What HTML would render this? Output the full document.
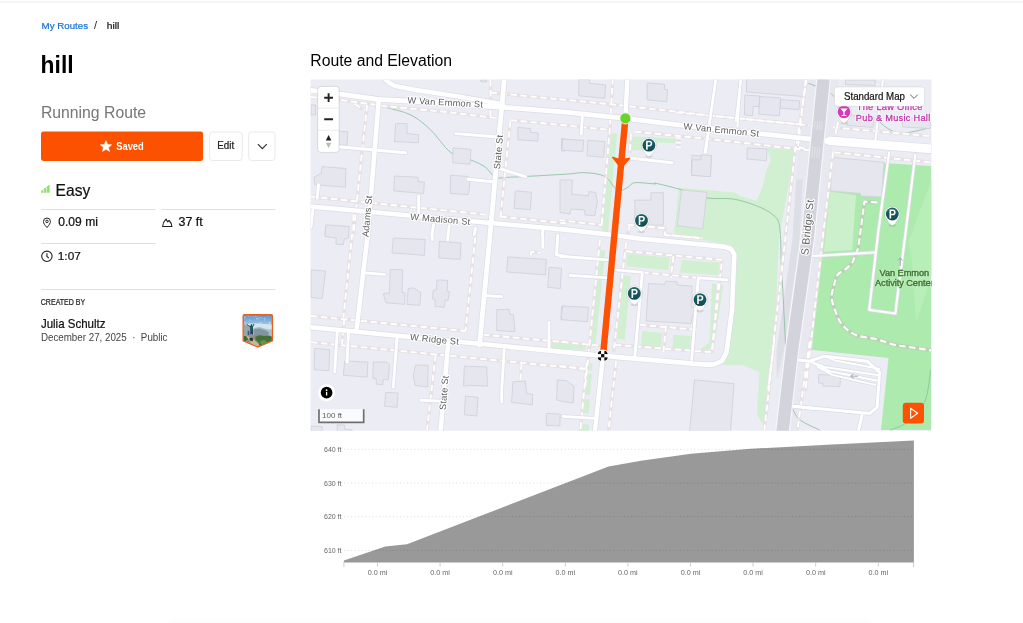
<!DOCTYPE html>
<html><head><meta charset="utf-8">
<style>
html,body{margin:0;padding:0;background:#fff;}
body{width:1023px;height:623px;position:relative;overflow:hidden;font-family:"Liberation Sans",sans-serif;color:#000;}
.abs{position:absolute;}
#topline{left:0;top:1px;width:1023px;height:2px;background:linear-gradient(#f8f8f8,#f3f3f3);}
#map{left:310px;top:79px;width:622px;height:352px;overflow:hidden;}
#elev{left:311px;top:432px;width:620px;height:150px;}
#botline{left:170px;top:628px;width:700px;height:10px;box-shadow:0 0 14px 3px rgba(0,0,0,0.06);}
</style></head><body>
<div id="wrap" style="position:absolute;left:0;top:0;width:1023px;height:623px;will-change:transform;opacity:0.999">
<div class="abs" id="topline"></div>
<svg width="1023" height="623" viewBox="0 0 1023 623" style="position:absolute;left:0;top:0;font-family:'Liberation Sans',sans-serif">
<defs>
<clipPath id="avc"><path d="M245.3 315.4h25a1.4 1.4 0 0 1 1.4 1.4v23.6l-13.9 5.9l-13.9 -5.9v-23.6a1.4 1.4 0 0 1 1.4 -1.4z"/></clipPath>
<linearGradient id="sky" x1="0" y1="0" x2="0" y2="1"><stop offset="0" stop-color="#5690d0"/><stop offset="0.36" stop-color="#a9cde6"/><stop offset="1" stop-color="#a9cde6"/></linearGradient>
</defs>

<text x="41.6" y="29" font-size="9.6" fill="#1470d6" stroke="#1470d6" stroke-width="0.2" textLength="46.4" lengthAdjust="spacingAndGlyphs">My Routes</text>
<text x="94" y="29.3" font-size="11" fill="#222">/</text>
<text x="106.8" y="29.1" font-size="9.9" fill="#111" stroke="#111" stroke-width="0.2" textLength="12.6" lengthAdjust="spacingAndGlyphs">hill</text>

<text x="40.6" y="73.4" font-size="24.8" font-weight="bold" fill="#000" textLength="33" lengthAdjust="spacingAndGlyphs">hill</text>
<text x="40.9" y="117.7" font-size="16.2" fill="#767676" textLength="105.2" lengthAdjust="spacingAndGlyphs">Running Route</text>

<rect x="41" y="131.5" width="162.1" height="29.5" rx="2.4" fill="#fc5200"/>
<path transform="translate(106 146.3)" fill="#fff" d="M0 -5.7L1.65 -1.9L5.7 -1.55L2.6 1.15L3.55 5.15L0 3L-3.55 5.15L-2.6 1.15L-5.7 -1.55L-1.65 -1.9Z" stroke="#fff" stroke-width="0.5" stroke-linejoin="round"/>
<text x="116.2" y="150.1" font-size="11" font-weight="bold" fill="#fff" textLength="27.6" lengthAdjust="spacingAndGlyphs">Saved</text>
<rect x="209.6" y="132" width="32.6" height="28.5" rx="2.8" fill="#fff" stroke="#e9e9e9" stroke-width="1"/>
<text x="217.3" y="149.1" font-size="10" fill="#222" textLength="16.9" lengthAdjust="spacingAndGlyphs" stroke="#222" stroke-width="0.22">Edit</text>
<rect x="248.7" y="132" width="26.3" height="28.5" rx="2.8" fill="#fff" stroke="#e9e9e9" stroke-width="1"/>
<path d="M257.9 144.1l4.45 4.5l4.45 -4.5" fill="none" stroke="#333" stroke-width="1.25"/>

<g fill="#8ddc66"><rect x="41.4" y="190.6" width="2.1" height="2.2"/><rect x="44.2" y="188.4" width="2.2" height="4.4"/><path d="M47.1 186.6l2.4 -1.8v8h-2.4z"/><path d="M41.4 190.6l8.1 -5.8v1.2l-8.1 5.6z" opacity="0.6"/></g>
<text x="55.6" y="195.8" font-size="16" fill="#111" textLength="34.6" lengthAdjust="spacingAndGlyphs" stroke="#111" stroke-width="0.22">Easy</text>

<g stroke="#dfdfdf" stroke-width="1"><line x1="41" y1="209.5" x2="155.6" y2="209.5"/><line x1="161.4" y1="209.5" x2="275.4" y2="209.5"/><line x1="41" y1="243.5" x2="155.6" y2="243.5"/><line x1="41" y1="289.5" x2="275.4" y2="289.5"/></g>
<g fill="none" stroke="#222" stroke-width="1">
<path d="M46.95 227.5c-2.2 -2.5 -3.5 -4.2 -3.5 -6a3.5 3.5 0 0 1 7 0c0 1.8 -1.3 3.5 -3.5 6z"/><circle cx="46.95" cy="221.4" r="1.25"/>
<path d="M162.6 226.5c0.2 -2.2 1.5 -5.6 3.4 -7.4l1.6 2.7l1.5 -1.3c1.6 1.6 2.6 4 2.8 6z" stroke-linejoin="round" stroke-width="1.15"/>
<circle cx="46.9" cy="256.3" r="5.2" stroke-width="1.1"/><path d="M46.9 253.2v3.3l2 1.7" stroke-width="1.1"/>
</g>
<text x="58.3" y="225.9" font-size="12" fill="#111" textLength="39.6" lengthAdjust="spacingAndGlyphs" stroke="#111" stroke-width="0.22">0.09 mi</text>
<text x="178.5" y="226" font-size="12" fill="#111" textLength="24.2" lengthAdjust="spacingAndGlyphs" stroke="#111" stroke-width="0.22">37 ft</text>
<text x="57.8" y="260.1" font-size="11.8" fill="#111" textLength="23" lengthAdjust="spacingAndGlyphs" stroke="#111" stroke-width="0.22">1:07</text>

<text x="40.8" y="305.3" font-size="8.3" fill="#222" textLength="44.4" lengthAdjust="spacingAndGlyphs" stroke="#222" stroke-width="0.22">CREATED BY</text>
<text x="40.9" y="327.6" font-size="12.2" fill="#111" textLength="64.6" lengthAdjust="spacingAndGlyphs" stroke="#111" stroke-width="0.22">Julia Schultz</text>
<text x="40.9" y="340.9" font-size="10.7" fill="#444" textLength="126.6" lengthAdjust="spacingAndGlyphs">December 27, 2025&#160;&#160;&#183;&#160;&#160;Public</text>

<path d="M244.4 314h26.8a1.9 1.9 0 0 1 1.9 1.9v25.3l-15.3 6.5l-15.3 -6.5v-25.3a1.9 1.9 0 0 1 1.9 -1.9z" fill="#e9601a"/>
<g clip-path="url(#avc)">
<rect x="243" y="314" width="30" height="34" fill="url(#sky)"/>
<polygon points="243.1,323.9 254.4,323.2 272.7,324.6 272.7,329.2 243.1,329.2" fill="#d5e5ec"/>
<polygon points="243.1,324.6 246.6,324.1 250.1,326.4 254.4,331.3 257.2,337.7 243.1,338.4" fill="#9aa5aa"/>
<polygon points="253.7,328.1 259.3,327.1 267.1,329.2 272.7,331.3 272.7,337.7 253.7,337.7" fill="#a9bcc6"/>
<polygon points="254.0,329.2 259.3,328.5 265.7,330.6 269.2,332.7 267.1,336.2 254.4,337.0" fill="#7f95a1"/>
<polygon points="243.1,336.2 257.2,334.8 272.7,336.2 272.7,349.0 243.1,349.0" fill="#8a8f80"/>
<polygon points="255.1,337.0 259.3,335.2 264.2,335.9 269.2,335.5 272.7,337.0 272.7,349.0 257.2,349.0 259.3,343.3 255.8,339.8" fill="#44703a"/>
<polygon points="260.0,341.2 264.2,339.8 267.1,341.9 264.2,344.7 260.7,344.0" fill="#5f9647"/>
<polygon points="243.1,336.2 246.6,335.9 248.4,339.1 245.2,341.2 243.1,341.2" fill="#3f6634"/>
<polygon points="245.9,336.2 248.4,336.2 252.9,339.1 259.3,344.7 258.6,347.5 252.2,346.1 250.1,341.2" fill="#cbb792"/>
<polygon points="250.0,326.0 252.9,326.0 253.2,331.3 250.1,331.3" fill="#1f5560"/>
<polygon points="250.4,331.2 252.9,331.2 252.8,334.5 251.9,334.5 251.7,332.4 251.3,334.5 250.4,334.5" fill="#1b2b3c"/>
<polyline points="250.1,326.7 248.1,325.3 246.7,324.1" fill="none" stroke="#24505a" stroke-width="0.9"/>
<polyline points="252.9,326.7 253.7,325.3 253.8,323.7" fill="none" stroke="#24505a" stroke-width="0.9"/>
<circle cx="251.5" cy="325.2" r="1" fill="#2c3a3e"/>
<polygon points="247.7,330.7 249.3,330.7 249.4,335.2 247.7,335.2" fill="#35588f"/>
<polygon points="249.4,337.7 252.9,338.0 252.8,341.2 249.8,340.6" fill="#26302f"/>
<g fill="#fff" opacity="0.8"><circle cx="250.3" cy="316.1" r="0.40"/><circle cx="248.0" cy="315.7" r="0.40"/><circle cx="269.1" cy="323.0" r="0.49"/><circle cx="249.9" cy="320.4" r="0.37"/><circle cx="248.5" cy="316.1" r="0.35"/><circle cx="269.3" cy="323.3" r="0.50"/><circle cx="261.0" cy="322.3" r="0.51"/><circle cx="268.0" cy="315.9" r="0.47"/><circle cx="257.7" cy="316.8" r="0.42"/><circle cx="246.2" cy="324.3" r="0.52"/><circle cx="258.9" cy="318.0" r="0.53"/><circle cx="259.5" cy="323.8" r="0.51"/><circle cx="257.8" cy="319.2" r="0.45"/><circle cx="255.6" cy="316.7" r="0.38"/><circle cx="261.0" cy="317.8" r="0.43"/><circle cx="256.7" cy="318.5" r="0.55"/><circle cx="249.2" cy="319.1" r="0.35"/><circle cx="261.2" cy="317.8" r="0.39"/><circle cx="264.3" cy="318.2" r="0.53"/><circle cx="246.5" cy="315.7" r="0.36"/><circle cx="264.8" cy="321.1" r="0.36"/><circle cx="252.9" cy="316.8" r="0.41"/><circle cx="244.9" cy="322.0" r="0.52"/><circle cx="270.1" cy="322.3" r="0.54"/><circle cx="244.3" cy="317.9" r="0.54"/><circle cx="265.1" cy="319.1" r="0.46"/><circle cx="256.0" cy="316.4" r="0.40"/><circle cx="245.0" cy="316.7" r="0.50"/><circle cx="253.8" cy="317.9" r="0.32"/></g>
</g>

<text x="310.3" y="65.6" font-size="16" fill="#000" textLength="141.8" lengthAdjust="spacingAndGlyphs">Route and Elevation</text>
</svg>

<div class="abs" id="map"><svg width="622" height="352" viewBox="310 79 622 352" style="display:block;font-family:'Liberation Sans',sans-serif">
<defs><clipPath id="mapclip"><rect x="310.6" y="79.5" width="620.8" height="351.2"/></clipPath></defs><g clip-path="url(#mapclip)">
<rect x="310" y="79" width="622" height="352" fill="#ececf4"/>
<polygon points="838.0,160.0 931.0,166.0 931.0,430.0 881.0,430.0 888.5,358.0 808.0,349.5 823.0,235.0 828.0,190.0 832.0,160.0" fill="#acebad"/>
<polygon points="932.0,178.0 908.5,242.0 912.0,262.0 916.0,322.0 932.0,276.0" fill="#b8eeb8"/>
<polygon points="830.0,191.6 856.0,195.3 852.1,250.1 823.8,251.8" fill="#cbf0cb"/>
<polygon points="766.9,147.8 770.8,159.8 766.3,171.6 762.1,188.2 756.3,200.7 739.7,195.7 734.7,192.4 706.5,189.9 679.0,187.4 674.1,233.1 702.3,239.8 730.6,244.7 734.5,254.9 732.0,309.8 724.5,354.6 719.5,363.4 724.5,364.9 743.2,364.9 759.4,372.4 756.9,414.8 764.4,426.0 774.4,340.0 779.3,235.0 795.5,150.3" fill="#d1f0d1"/>
<polygon points="611.3,133.3 617.2,133.3 607.9,232.0 602.1,232.0" fill="#d1f0d1"/>
<polygon points="632.3,136.6 675.9,138.6 675.2,143.3 654.7,142.3 653.5,150.3 631.8,150.3" fill="#d1f0d1"/>
<polygon points="805.4,79.0 797.2,160.0 795.3,179.3 796.2,179.3 792.4,240.0 776.6,350.0 776.6,378.0 783.0,378.0 775.5,432.0 798.0,432.0 807.5,350.0 823.0,240.0 831.0,160.0 839.1,79.0" fill="#e8e8f0"/>
<polygon points="796.2,179.3 802.6,179.3 799.5,240.0 784.0,350.0 776.8,378.0 776.6,350.0 792.4,240.0" fill="#dedee7"/>
<polygon points="627.3,253.7 669.7,257.4 668.4,269.9 626.1,266.2" fill="#d1f0d1"/>
<polygon points="682.1,259.9 719.5,262.4 718.3,274.9 679.6,272.4" fill="#d1f0d1"/>
<polygon points="619.8,274.9 631.0,276.1 624.8,339.7 616.1,338.4" fill="#d1f0d1"/>
<polygon points="712.0,283.6 723.3,284.9 714.5,344.7 705.8,352.1 698.3,350.9 709.6,342.2" fill="#d1f0d1"/>
<polygon points="642.3,331.0 662.2,332.7 660.9,348.4 641.0,345.9" fill="#d1f0d1"/>
<polygon points="673.4,334.7 690.9,335.9 689.6,350.9 672.2,349.7" fill="#d1f0d1"/>
<polygon points="599.9,250.0 605.4,250.5 595.4,344.7 589.9,344.7" fill="#d1f0d1"/>
<polygon points="551.5,342.2 565.2,343.4 565.2,349.7 551.5,348.4" fill="#d1f0d1"/>
<polygon points="560.0,342.7 586.2,344.7 584.9,350.2 560.0,348.4" fill="#d1f0d1"/>
<polygon points="587.7,362.9 592.7,363.6 592.0,370.7 587.0,370.2" fill="#d1f0d1"/>
<polygon points="586.0,373.2 592.0,373.9 589.8,395.1 584.4,394.5" fill="#d1f0d1"/>
<polygon points="584.0,399.0 589.8,399.5 588.7,413.4 582.7,412.8" fill="#d1f0d1"/>
<polygon points="581.7,423.9 589.3,424.4 588.7,431.7 580.7,431.7" fill="#d1f0d1"/>
<path d="M311.0 96.9 C316.0 97.5 330.9 99.3 340.9 100.4 C350.9 101.6 363.3 102.5 370.8 103.7 C378.3 104.8 379.1 105.5 385.8 107.4 C392.4 109.3 403.2 111.2 410.7 114.9 C418.2 118.6 424.0 123.6 430.6 129.9 C437.3 136.1 443.9 147.3 450.6 152.3 C457.2 157.3 464.7 157.3 470.5 159.8 C476.3 162.3 481.3 164.3 485.5 167.2 C489.6 170.1 491.3 175.5 495.4 177.2 C499.6 178.9 498.8 177.7 510.4 177.2 C522.0 176.7 552.8 175.0 565.2 174.2 C577.7 173.5 578.3 172.3 584.9 172.7 C591.5 173.1 599.5 173.5 604.9 176.5 C610.3 179.4 613.6 188.3 617.3 190.2 C621.1 192.0 624.4 188.9 627.3 187.7 C630.2 186.4 630.2 183.3 634.8 182.7 C639.3 182.1 651.2 183.8 654.7 183.9 C658.2 184.0 651.7 182.4 655.8 183.3 C659.8 184.1 670.5 186.6 679.0 189.1 C687.6 191.5 697.8 196.2 706.8 197.9 C715.8 199.5 724.8 197.7 733.1 199.0 C741.3 200.4 749.7 203.1 756.3 205.7 C763.0 208.3 769.1 211.4 772.9 214.8 C776.8 218.3 778.2 218.4 779.6 226.5 C781.0 234.5 780.9 255.4 781.2 263.0 C781.6 270.7 781.2 258.4 781.9 272.4 C782.7 286.4 785.0 334.7 785.7 347.2" fill="none" stroke="#90c3a2" stroke-width="0.9"/>
<path d="M808.4 83.3 C809.9 83.9 816.0 86.1 817.5 86.6" fill="none" stroke="#90c3a2" stroke-width="0.9"/>
<path d="M830.8 93.3 C831.5 94.0 834.3 96.8 834.9 97.4" fill="none" stroke="#90c3a2" stroke-width="0.9"/>
<path d="M877.3 119.9 C879.0 121.3 883.7 126.0 887.3 128.2 C890.9 130.4 894.5 132.6 898.9 133.2 C903.4 133.7 908.6 132.5 913.9 131.5 C919.1 130.5 927.7 128.1 930.5 127.4" fill="none" stroke="#90c3a2" stroke-width="0.9"/>
<path d="M930.7 369.9 C929.7 375.3 928.5 393.6 924.5 402.3 C920.6 411.0 912.9 417.6 907.1 422.3 C901.2 426.9 892.5 428.9 889.6 430.2" fill="none" stroke="#90c3a2" stroke-width="0.9"/>
<path d="M792.4 408.5 C793.6 410.4 795.3 416.1 799.9 419.8 C804.4 423.4 816.5 428.5 819.8 430.2" fill="none" stroke="#90c3a2" stroke-width="0.9"/>
<polygon points="395.7,123.6 407.0,123.6 407.0,133.6 418.7,134.8 418.2,142.8 394.5,141.6" fill="#e6e6ee" stroke="#cfcfdb" stroke-width="0.8" stroke-linejoin="round"/>
<polygon points="453.1,147.8 471.0,149.3 470.0,164.2 452.6,162.8" fill="#e6e6ee" stroke="#cfcfdb" stroke-width="0.8" stroke-linejoin="round"/>
<polygon points="322.2,166.7 345.9,168.5 345.4,187.2 314.7,184.7 314.0,177.2 321.0,173.5" fill="#e6e6ee" stroke="#cfcfdb" stroke-width="0.8" stroke-linejoin="round"/>
<polygon points="394.5,176.0 418.2,177.2 418.2,181.7 424.4,182.2 423.7,193.4 393.8,190.9" fill="#e6e6ee" stroke="#cfcfdb" stroke-width="0.8" stroke-linejoin="round"/>
<polygon points="450.6,175.2 468.0,176.5 468.0,180.9 469.8,181.2 469.3,189.7 468.0,194.7 450.1,193.4" fill="#e6e6ee" stroke="#cfcfdb" stroke-width="0.8" stroke-linejoin="round"/>
<polygon points="517.9,127.4 530.3,128.6 530.3,132.3 538.3,133.1 537.8,141.1 517.9,139.8" fill="#e6e6ee" stroke="#cfcfdb" stroke-width="0.8" stroke-linejoin="round"/>
<polygon points="515.4,190.9 531.6,192.2 530.3,209.6 514.1,208.4" fill="#e6e6ee" stroke="#cfcfdb" stroke-width="0.8" stroke-linejoin="round"/>
<polygon points="561.5,138.6 565.2,138.8 565.2,151.0 561.5,150.8" fill="#e6e6ee" stroke="#cfcfdb" stroke-width="0.8" stroke-linejoin="round"/>
<polygon points="335.9,131.1 347.9,131.8 347.1,145.3 335.9,144.8" fill="#e6e6ee" stroke="#cfcfdb" stroke-width="0.8" stroke-linejoin="round"/>
<polygon points="311.0,104.9 315.5,104.9 315.5,114.9 311.0,114.9" fill="#e6e6ee" stroke="#cfcfdb" stroke-width="0.8" stroke-linejoin="round"/>
<polygon points="326.0,225.8 348.4,227.1 348.4,234.5 324.7,234.5" fill="#e6e6ee" stroke="#cfcfdb" stroke-width="0.8" stroke-linejoin="round"/>
<polygon points="480.5,80.0 486.7,80.0 486.2,82.0 480.5,81.5" fill="#e6e6ee" stroke="#cfcfdb" stroke-width="0.8" stroke-linejoin="round"/>
<polygon points="579.0,79.2 589.0,79.2 589.8,83.3 605.6,85.0 604.8,98.3 578.7,95.8" fill="#e6e6ee" stroke="#cfcfdb" stroke-width="0.8" stroke-linejoin="round"/>
<polygon points="647.2,83.0 664.7,84.2 664.2,89.2 667.7,89.7 666.7,101.7 647.2,99.9" fill="#e6e6ee" stroke="#cfcfdb" stroke-width="0.8" stroke-linejoin="round"/>
<polygon points="562.5,139.1 583.7,140.3 582.9,151.5 562.0,150.3" fill="#e6e6ee" stroke="#cfcfdb" stroke-width="0.8" stroke-linejoin="round"/>
<polygon points="587.9,140.3 604.9,141.6 603.6,157.3 586.9,155.8" fill="#e6e6ee" stroke="#cfcfdb" stroke-width="0.8" stroke-linejoin="round"/>
<polygon points="692.1,155.3 711.5,156.5 710.3,176.5 691.6,175.2 691.6,160.3" fill="#e6e6ee" stroke="#cfcfdb" stroke-width="0.8" stroke-linejoin="round"/>
<polygon points="747.4,147.8 766.9,149.0 766.4,160.8 746.9,159.0" fill="#e6e6ee" stroke="#cfcfdb" stroke-width="0.8" stroke-linejoin="round"/>
<polygon points="560.0,180.0 572.5,180.0 571.6,194.1 588.2,195.8 589.1,191.6 595.7,192.5 597.4,201.6 594.9,215.7 584.9,214.9 584.6,209.9 570.8,209.1 570.0,214.1 560.0,212.4" fill="#e6e6ee" stroke="#cfcfdb" stroke-width="0.8" stroke-linejoin="round"/>
<polygon points="634.8,200.1 651.0,200.1 651.0,192.7 663.4,192.7 663.4,225.1 634.8,225.1" fill="#e6e6ee" stroke="#cfcfdb" stroke-width="0.8" stroke-linejoin="round"/>
<polygon points="681.5,189.9 706.8,192.4 702.8,229.0 677.4,225.6" fill="#e6e6ee" stroke="#cfcfdb" stroke-width="0.8" stroke-linejoin="round"/>
<polygon points="746.5,78.7 807.5,78.7 804.7,96.6 746.5,92.0" fill="#e6e6ee" stroke="#cfcfdb" stroke-width="0.8" stroke-linejoin="round"/>
<polygon points="744.9,95.0 759.8,96.1 759.0,106.6 753.2,106.3 752.4,115.7 744.4,114.9" fill="#e6e6ee" stroke="#cfcfdb" stroke-width="0.8" stroke-linejoin="round"/>
<polygon points="759.8,96.6 780.6,97.9 779.3,115.7 758.7,114.1" fill="#e6e6ee" stroke="#cfcfdb" stroke-width="0.8" stroke-linejoin="round"/>
<polygon points="780.6,99.6 799.7,100.8 798.9,109.6 780.3,108.2" fill="#e6e6ee" stroke="#cfcfdb" stroke-width="0.8" stroke-linejoin="round"/>
<polygon points="692.2,159.8 700.9,159.8 701.4,154.8 711.4,155.5 710.4,176.7 691.5,175.2" fill="#e6e6ee" stroke="#cfcfdb" stroke-width="0.8" stroke-linejoin="round"/>
<polygon points="831.8,157.3 884.1,162.3 881.6,197.1 860.4,195.9 860.4,193.4 830.5,190.9" fill="#e6e6ee" stroke="#cfcfdb" stroke-width="0.8" stroke-linejoin="round"/>
<polygon points="845.5,80.0 875.4,80.0 874.9,85.5 845.5,84.5" fill="#e6e6ee" stroke="#cfcfdb" stroke-width="0.8" stroke-linejoin="round"/>
<polygon points="848.0,114.9 874.2,117.4 872.9,127.4 846.7,125.4" fill="#e6e6ee" stroke="#cfcfdb" stroke-width="0.8" stroke-linejoin="round"/>
<polygon points="902.8,117.4 930.2,119.4 930.2,128.6 902.3,126.9" fill="#e6e6ee" stroke="#cfcfdb" stroke-width="0.8" stroke-linejoin="round"/>
<polygon points="393.3,238.0 425.2,239.5 424.4,255.4 392.0,252.9" fill="#e6e6ee" stroke="#cfcfdb" stroke-width="0.8" stroke-linejoin="round"/>
<polygon points="439.4,241.2 461.0,243.0 460.1,259.4 438.6,257.9" fill="#e6e6ee" stroke="#cfcfdb" stroke-width="0.8" stroke-linejoin="round"/>
<polygon points="507.9,256.9 546.5,259.4 545.3,274.9 506.7,271.9" fill="#e6e6ee" stroke="#cfcfdb" stroke-width="0.8" stroke-linejoin="round"/>
<polygon points="549.0,267.4 561.5,268.2 560.3,288.6 547.8,287.3" fill="#e6e6ee" stroke="#cfcfdb" stroke-width="0.8" stroke-linejoin="round"/>
<polygon points="311.0,269.9 325.5,271.1 322.2,298.6 311.0,297.3" fill="#e6e6ee" stroke="#cfcfdb" stroke-width="0.8" stroke-linejoin="round"/>
<polygon points="390.3,269.4 402.7,269.9 402.0,292.3 405.2,292.8 404.5,304.3 385.8,302.8 383.3,293.6 389.5,292.8" fill="#e6e6ee" stroke="#cfcfdb" stroke-width="0.8" stroke-linejoin="round"/>
<polygon points="408.2,288.6 413.2,287.8 420.7,292.3 419.9,305.3 407.0,304.3" fill="#e6e6ee" stroke="#cfcfdb" stroke-width="0.8" stroke-linejoin="round"/>
<polygon points="436.9,279.9 447.6,280.4 447.1,291.1 449.3,291.8 448.1,300.3 445.1,300.3 444.3,307.3 435.1,306.5 435.1,299.8 432.6,299.1 433.1,290.3 436.4,289.8" fill="#e6e6ee" stroke="#cfcfdb" stroke-width="0.8" stroke-linejoin="round"/>
<polygon points="496.7,309.8 509.2,309.3 509.7,314.3 513.4,314.8 514.9,331.7 496.7,330.5" fill="#e6e6ee" stroke="#cfcfdb" stroke-width="0.8" stroke-linejoin="round"/>
<polygon points="314.7,348.4 329.7,349.7 328.9,370.8 314.0,369.6" fill="#e6e6ee" stroke="#cfcfdb" stroke-width="0.8" stroke-linejoin="round"/>
<polygon points="344.6,360.9 367.8,362.1 367.1,377.1 343.4,375.3" fill="#e6e6ee" stroke="#cfcfdb" stroke-width="0.8" stroke-linejoin="round"/>
<polygon points="373.3,362.1 387.0,362.1 389.5,364.6 388.3,379.6 383.3,379.6 382.8,384.6 376.3,384.1 376.3,379.1 372.8,378.3" fill="#e6e6ee" stroke="#cfcfdb" stroke-width="0.8" stroke-linejoin="round"/>
<polygon points="326.0,224.9 349.2,226.5 348.4,238.2 344.2,239.0 343.4,244.8 335.9,244.0 336.3,238.2 325.1,236.5" fill="#e6e6ee" stroke="#cfcfdb" stroke-width="0.8" stroke-linejoin="round"/>
<polygon points="561.5,306.0 565.2,306.3 565.2,319.7 561.0,319.2" fill="#e6e6ee" stroke="#cfcfdb" stroke-width="0.8" stroke-linejoin="round"/>
<polygon points="415.7,364.9 428.1,365.4 427.7,386.9 415.2,385.6 413.2,374.9" fill="#e6e6ee" stroke="#cfcfdb" stroke-width="0.8" stroke-linejoin="round"/>
<polygon points="464.3,366.2 486.7,366.9 487.5,386.1 470.5,385.4 463.5,386.1" fill="#e6e6ee" stroke="#cfcfdb" stroke-width="0.8" stroke-linejoin="round"/>
<polygon points="385.8,392.3 398.2,393.1 397.0,407.3 384.5,406.3" fill="#e6e6ee" stroke="#cfcfdb" stroke-width="0.8" stroke-linejoin="round"/>
<polygon points="465.5,396.1 478.0,397.3 476.8,416.0 464.3,414.8" fill="#e6e6ee" stroke="#cfcfdb" stroke-width="0.8" stroke-linejoin="round"/>
<polygon points="512.9,381.9 525.4,381.1 526.6,393.6 532.8,394.3 532.3,404.8 511.6,402.3" fill="#e6e6ee" stroke="#cfcfdb" stroke-width="0.8" stroke-linejoin="round"/>
<polygon points="546.5,413.5 560.3,414.0 559.8,426.0 546.0,425.2" fill="#e6e6ee" stroke="#cfcfdb" stroke-width="0.8" stroke-linejoin="round"/>
<polygon points="311.0,426.0 322.2,426.7 322.2,432.7 311.0,432.7" fill="#e6e6ee" stroke="#cfcfdb" stroke-width="0.8" stroke-linejoin="round"/>
<polygon points="337.2,424.7 344.6,425.2 344.6,429.2 352.1,429.7 352.1,432.7 337.2,432.7" fill="#e6e6ee" stroke="#cfcfdb" stroke-width="0.8" stroke-linejoin="round"/>
<polygon points="562.5,306.0 588.7,307.3 587.4,321.7 561.2,319.7" fill="#e6e6ee" stroke="#cfcfdb" stroke-width="0.8" stroke-linejoin="round"/>
<polygon points="648.5,283.6 664.7,284.4 665.9,281.1 677.1,281.9 677.1,284.9 692.1,286.1 691.6,307.3 694.6,307.8 690.9,323.5 646.0,321.0" fill="#e6e6ee" stroke="#cfcfdb" stroke-width="0.8" stroke-linejoin="round"/>
<polygon points="694.6,379.9 734.0,383.6 730.5,432.7 689.4,432.7" fill="#e6e6ee" stroke="#cfcfdb" stroke-width="0.8" stroke-linejoin="round"/>
<polygon points="557.4,379.9 566.6,380.7 574.1,386.5 573.2,403.1 562.4,401.5 556.6,399.8" fill="#e6e6ee" stroke="#cfcfdb" stroke-width="0.8" stroke-linejoin="round"/>
<polygon points="818.6,374.6 840.5,375.3 840.0,386.5 823.1,386.0 823.1,383.3 818.6,383.1" fill="#e6e6ee" stroke="#cfcfdb" stroke-width="0.8" stroke-linejoin="round"/>
<polyline points="311.0,96.9 343.4,100.4 385.8,106.2 450.6,112.4 495.4,117.9" fill="none" stroke="#e7e1e4" stroke-width="3.4" stroke-linejoin="round"/>
<polyline points="354.6,103.7 363.3,109.9" fill="none" stroke="#e7e1e4" stroke-width="3.4" stroke-linejoin="round"/>
<polyline points="367.1,104.9 360.9,162.3 353.4,234.5 352.1,235.0 343.4,317.3" fill="none" stroke="#e7e1e4" stroke-width="3.4" stroke-linejoin="round"/>
<polyline points="490.5,80.0 490.5,117.4" fill="none" stroke="#e7e1e4" stroke-width="3.4" stroke-linejoin="round"/>
<polyline points="490.5,92.5 565.2,99.9 560.0,99.2 609.9,104.2 709.6,115.4 809.3,125.4" fill="none" stroke="#e7e1e4" stroke-width="3.4" stroke-linejoin="round"/>
<polyline points="510.6,120.2 560.8,124.9 609.8,129.9" fill="none" stroke="#e7e1e4" stroke-width="3.4" stroke-linejoin="round"/>
<polyline points="510.4,121.1 500.4,217.1" fill="none" stroke="#e7e1e4" stroke-width="3.4" stroke-linejoin="round"/>
<polyline points="476.6,227.5 475.5,235.0 465.5,331.0" fill="none" stroke="#e7e1e4" stroke-width="3.4" stroke-linejoin="round"/>
<polyline points="311.0,196.7 485.5,214.6" fill="none" stroke="#e7e1e4" stroke-width="3.4" stroke-linejoin="round"/>
<polyline points="500.4,216.6 565.2,223.3 560.0,220.1 602.4,225.1" fill="none" stroke="#e7e1e4" stroke-width="3.4" stroke-linejoin="round"/>
<polyline points="353.4,214.6 353.4,234.5" fill="none" stroke="#e7e1e4" stroke-width="3.4" stroke-linejoin="round"/>
<polyline points="612.8,78.0 609.9,127.9 601.4,227.6" fill="none" stroke="#e7e1e4" stroke-width="3.4" stroke-linejoin="round"/>
<polyline points="634.8,131.6 709.6,139.1 809.3,150.3 795.6,146.1" fill="none" stroke="#e7e1e4" stroke-width="3.4" stroke-linejoin="round"/>
<polyline points="631.0,134.1 629.8,152.8" fill="none" stroke="#e7e1e4" stroke-width="3.4" stroke-linejoin="round"/>
<polyline points="795.6,146.1 785.7,234.5 785.7,235.0 768.2,389.5 774.4,340.0 764.4,430.2" fill="none" stroke="#e7e1e4" stroke-width="3.4" stroke-linejoin="round"/>
<polyline points="805.6,80.0 798.1,146.1" fill="none" stroke="#e7e1e4" stroke-width="3.4" stroke-linejoin="round"/>
<polyline points="806.8,78.0 795.5,150.3" fill="none" stroke="#e7e1e4" stroke-width="3.4" stroke-linejoin="round"/>
<polyline points="676.0,112.4 805.6,124.9" fill="none" stroke="#e7e1e4" stroke-width="3.4" stroke-linejoin="round"/>
<polyline points="833.0,127.4 930.2,136.1" fill="none" stroke="#e7e1e4" stroke-width="3.4" stroke-linejoin="round"/>
<polyline points="834.3,152.3 930.2,162.3" fill="none" stroke="#e7e1e4" stroke-width="3.4" stroke-linejoin="round"/>
<polyline points="833.0,152.3 823.1,234.5 823.1,235.0 805.6,389.5 809.9,340.0 797.4,430.2" fill="none" stroke="#e7e1e4" stroke-width="3.4" stroke-linejoin="round"/>
<polyline points="627.8,224.6 642.3,226.3 664.7,228.3" fill="none" stroke="#e7e1e4" stroke-width="3.4" stroke-linejoin="round"/>
<polyline points="648.3,226.5 664.9,228.1 664.9,234.8 702.3,238.1" fill="none" stroke="#e7e1e4" stroke-width="3.4" stroke-linejoin="round"/>
<polyline points="629.8,224.5 627.8,234.8" fill="none" stroke="#e7e1e4" stroke-width="3.4" stroke-linejoin="round"/>
<polyline points="344.2,319.0 342.2,344.0" fill="none" stroke="#e7e1e4" stroke-width="3.4" stroke-linejoin="round"/>
<polyline points="530.8,255.4 531.3,251.9 539.8,252.9" fill="none" stroke="#e7e1e4" stroke-width="3.4" stroke-linejoin="round"/>
<polyline points="311.0,316.0 465.5,331.0" fill="none" stroke="#e7e1e4" stroke-width="3.4" stroke-linejoin="round"/>
<polyline points="483.0,334.7 565.2,342.2 560.0,341.7 602.4,345.9" fill="none" stroke="#e7e1e4" stroke-width="3.4" stroke-linejoin="round"/>
<polyline points="311.0,342.2 565.2,367.1 560.0,365.9 587.4,369.6" fill="none" stroke="#e7e1e4" stroke-width="3.4" stroke-linejoin="round"/>
<polyline points="435.6,355.0 426.9,430.2" fill="none" stroke="#e7e1e4" stroke-width="3.4" stroke-linejoin="round"/>
<polyline points="521.6,363.4 520.4,379.6" fill="none" stroke="#e7e1e4" stroke-width="3.4" stroke-linejoin="round"/>
<polyline points="599.9,240.0 584.9,389.5" fill="none" stroke="#e7e1e4" stroke-width="3.4" stroke-linejoin="round"/>
<polyline points="626.1,242.5 613.6,352.1" fill="none" stroke="#e7e1e4" stroke-width="3.4" stroke-linejoin="round"/>
<polyline points="626.1,251.2 722.0,259.9 712.0,352.1 613.6,344.7" fill="none" stroke="#e7e1e4" stroke-width="3.4" stroke-linejoin="round"/>
<polyline points="673.4,256.2 670.9,277.4" fill="none" stroke="#e7e1e4" stroke-width="3.4" stroke-linejoin="round"/>
<polyline points="642.3,272.4 698.3,277.9" fill="none" stroke="#e7e1e4" stroke-width="3.4" stroke-linejoin="round"/>
<polyline points="665.9,326.0 663.4,352.1" fill="none" stroke="#e7e1e4" stroke-width="3.4" stroke-linejoin="round"/>
<polyline points="639.8,324.7 694.6,329.7" fill="none" stroke="#e7e1e4" stroke-width="3.4" stroke-linejoin="round"/>
<polyline points="718.3,283.6 712.0,352.1" fill="none" stroke="#e7e1e4" stroke-width="3.4" stroke-linejoin="round"/>
<polyline points="664.7,235.0 699.6,238.0" fill="none" stroke="#e7e1e4" stroke-width="3.4" stroke-linejoin="round"/>
<polyline points="616.1,361.2 608.6,430.2" fill="none" stroke="#e7e1e4" stroke-width="3.4" stroke-linejoin="round"/>
<polyline points="586.7,362.6 580.2,432.2" fill="none" stroke="#e7e1e4" stroke-width="3.4" stroke-linejoin="round"/>
<polyline points="560.0,366.2 584.9,368.7" fill="none" stroke="#e7e1e4" stroke-width="3.4" stroke-linejoin="round"/>
<polyline points="311.0,96.9 343.4,100.4 385.8,106.2 450.6,112.4 495.4,117.9" fill="none" stroke="#fff" stroke-width="1.8" stroke-dasharray="6.4,3.6" stroke-linejoin="round"/>
<polyline points="354.6,103.7 363.3,109.9" fill="none" stroke="#fff" stroke-width="1.8" stroke-dasharray="6.4,3.6" stroke-linejoin="round"/>
<polyline points="367.1,104.9 360.9,162.3 353.4,234.5 352.1,235.0 343.4,317.3" fill="none" stroke="#fff" stroke-width="1.8" stroke-dasharray="6.4,3.6" stroke-linejoin="round"/>
<polyline points="490.5,80.0 490.5,117.4" fill="none" stroke="#fff" stroke-width="1.8" stroke-dasharray="6.4,3.6" stroke-linejoin="round"/>
<polyline points="490.5,92.5 565.2,99.9 560.0,99.2 609.9,104.2 709.6,115.4 809.3,125.4" fill="none" stroke="#fff" stroke-width="1.8" stroke-dasharray="6.4,3.6" stroke-linejoin="round"/>
<polyline points="510.6,120.2 560.8,124.9 609.8,129.9" fill="none" stroke="#fff" stroke-width="1.8" stroke-dasharray="6.4,3.6" stroke-linejoin="round"/>
<polyline points="510.4,121.1 500.4,217.1" fill="none" stroke="#fff" stroke-width="1.8" stroke-dasharray="6.4,3.6" stroke-linejoin="round"/>
<polyline points="476.6,227.5 475.5,235.0 465.5,331.0" fill="none" stroke="#fff" stroke-width="1.8" stroke-dasharray="6.4,3.6" stroke-linejoin="round"/>
<polyline points="311.0,196.7 485.5,214.6" fill="none" stroke="#fff" stroke-width="1.8" stroke-dasharray="6.4,3.6" stroke-linejoin="round"/>
<polyline points="500.4,216.6 565.2,223.3 560.0,220.1 602.4,225.1" fill="none" stroke="#fff" stroke-width="1.8" stroke-dasharray="6.4,3.6" stroke-linejoin="round"/>
<polyline points="353.4,214.6 353.4,234.5" fill="none" stroke="#fff" stroke-width="1.8" stroke-dasharray="6.4,3.6" stroke-linejoin="round"/>
<polyline points="612.8,78.0 609.9,127.9 601.4,227.6" fill="none" stroke="#fff" stroke-width="1.8" stroke-dasharray="6.4,3.6" stroke-linejoin="round"/>
<polyline points="634.8,131.6 709.6,139.1 809.3,150.3 795.6,146.1" fill="none" stroke="#fff" stroke-width="1.8" stroke-dasharray="6.4,3.6" stroke-linejoin="round"/>
<polyline points="631.0,134.1 629.8,152.8" fill="none" stroke="#fff" stroke-width="1.8" stroke-dasharray="6.4,3.6" stroke-linejoin="round"/>
<polyline points="795.6,146.1 785.7,234.5 785.7,235.0 768.2,389.5 774.4,340.0 764.4,430.2" fill="none" stroke="#fff" stroke-width="1.8" stroke-dasharray="6.4,3.6" stroke-linejoin="round"/>
<polyline points="805.6,80.0 798.1,146.1" fill="none" stroke="#fff" stroke-width="1.8" stroke-dasharray="6.4,3.6" stroke-linejoin="round"/>
<polyline points="806.8,78.0 795.5,150.3" fill="none" stroke="#fff" stroke-width="1.8" stroke-dasharray="6.4,3.6" stroke-linejoin="round"/>
<polyline points="676.0,112.4 805.6,124.9" fill="none" stroke="#fff" stroke-width="1.8" stroke-dasharray="6.4,3.6" stroke-linejoin="round"/>
<polyline points="833.0,127.4 930.2,136.1" fill="none" stroke="#fff" stroke-width="1.8" stroke-dasharray="6.4,3.6" stroke-linejoin="round"/>
<polyline points="834.3,152.3 930.2,162.3" fill="none" stroke="#fff" stroke-width="1.8" stroke-dasharray="6.4,3.6" stroke-linejoin="round"/>
<polyline points="833.0,152.3 823.1,234.5 823.1,235.0 805.6,389.5 809.9,340.0 797.4,430.2" fill="none" stroke="#fff" stroke-width="1.8" stroke-dasharray="6.4,3.6" stroke-linejoin="round"/>
<polyline points="627.8,224.6 642.3,226.3 664.7,228.3" fill="none" stroke="#fff" stroke-width="1.8" stroke-dasharray="6.4,3.6" stroke-linejoin="round"/>
<polyline points="648.3,226.5 664.9,228.1 664.9,234.8 702.3,238.1" fill="none" stroke="#fff" stroke-width="1.8" stroke-dasharray="6.4,3.6" stroke-linejoin="round"/>
<polyline points="629.8,224.5 627.8,234.8" fill="none" stroke="#fff" stroke-width="1.8" stroke-dasharray="6.4,3.6" stroke-linejoin="round"/>
<polyline points="344.2,319.0 342.2,344.0" fill="none" stroke="#fff" stroke-width="1.8" stroke-dasharray="6.4,3.6" stroke-linejoin="round"/>
<polyline points="530.8,255.4 531.3,251.9 539.8,252.9" fill="none" stroke="#fff" stroke-width="1.8" stroke-dasharray="6.4,3.6" stroke-linejoin="round"/>
<polyline points="311.0,316.0 465.5,331.0" fill="none" stroke="#fff" stroke-width="1.8" stroke-dasharray="6.4,3.6" stroke-linejoin="round"/>
<polyline points="483.0,334.7 565.2,342.2 560.0,341.7 602.4,345.9" fill="none" stroke="#fff" stroke-width="1.8" stroke-dasharray="6.4,3.6" stroke-linejoin="round"/>
<polyline points="311.0,342.2 565.2,367.1 560.0,365.9 587.4,369.6" fill="none" stroke="#fff" stroke-width="1.8" stroke-dasharray="6.4,3.6" stroke-linejoin="round"/>
<polyline points="435.6,355.0 426.9,430.2" fill="none" stroke="#fff" stroke-width="1.8" stroke-dasharray="6.4,3.6" stroke-linejoin="round"/>
<polyline points="521.6,363.4 520.4,379.6" fill="none" stroke="#fff" stroke-width="1.8" stroke-dasharray="6.4,3.6" stroke-linejoin="round"/>
<polyline points="599.9,240.0 584.9,389.5" fill="none" stroke="#fff" stroke-width="1.8" stroke-dasharray="6.4,3.6" stroke-linejoin="round"/>
<polyline points="626.1,242.5 613.6,352.1" fill="none" stroke="#fff" stroke-width="1.8" stroke-dasharray="6.4,3.6" stroke-linejoin="round"/>
<polyline points="626.1,251.2 722.0,259.9 712.0,352.1 613.6,344.7" fill="none" stroke="#fff" stroke-width="1.8" stroke-dasharray="6.4,3.6" stroke-linejoin="round"/>
<polyline points="673.4,256.2 670.9,277.4" fill="none" stroke="#fff" stroke-width="1.8" stroke-dasharray="6.4,3.6" stroke-linejoin="round"/>
<polyline points="642.3,272.4 698.3,277.9" fill="none" stroke="#fff" stroke-width="1.8" stroke-dasharray="6.4,3.6" stroke-linejoin="round"/>
<polyline points="665.9,326.0 663.4,352.1" fill="none" stroke="#fff" stroke-width="1.8" stroke-dasharray="6.4,3.6" stroke-linejoin="round"/>
<polyline points="639.8,324.7 694.6,329.7" fill="none" stroke="#fff" stroke-width="1.8" stroke-dasharray="6.4,3.6" stroke-linejoin="round"/>
<polyline points="718.3,283.6 712.0,352.1" fill="none" stroke="#fff" stroke-width="1.8" stroke-dasharray="6.4,3.6" stroke-linejoin="round"/>
<polyline points="664.7,235.0 699.6,238.0" fill="none" stroke="#fff" stroke-width="1.8" stroke-dasharray="6.4,3.6" stroke-linejoin="round"/>
<polyline points="616.1,361.2 608.6,430.2" fill="none" stroke="#fff" stroke-width="1.8" stroke-dasharray="6.4,3.6" stroke-linejoin="round"/>
<polyline points="586.7,362.6 580.2,432.2" fill="none" stroke="#fff" stroke-width="1.8" stroke-dasharray="6.4,3.6" stroke-linejoin="round"/>
<polyline points="560.0,366.2 584.9,368.7" fill="none" stroke="#fff" stroke-width="1.8" stroke-dasharray="6.4,3.6" stroke-linejoin="round"/>
<path d="M858.2 248.1 C857.4 250.2 854.3 258.0 853.2 260.6 C852.1 263.1 852.8 261.9 851.6 263.3 C850.3 264.8 848.0 267.3 845.7 269.1 C843.4 271.0 839.7 272.0 837.8 274.6 C835.8 277.3 835.1 281.1 834.1 284.9 C833.1 288.7 831.5 293.2 831.6 297.4 C831.8 301.5 833.6 305.8 834.9 309.9 C836.3 313.9 837.9 318.2 839.9 321.5 C842.0 324.8 844.5 327.4 847.4 329.8 C850.3 332.1 852.4 334.0 857.4 335.6 C862.4 337.2 871.2 337.9 877.3 339.4 C883.4 341.0 888.4 343.4 893.9 344.7 C899.5 346.0 904.2 346.3 910.6 347.2 C916.9 348.2 928.6 350.0 932.2 350.6" fill="none" stroke="#b9d2b4" stroke-width="3.9"/>
<path d="M858.2 248.1 C857.4 250.2 854.3 258.0 853.2 260.6 C852.1 263.1 852.8 261.9 851.6 263.3 C850.3 264.8 848.0 267.3 845.7 269.1 C843.4 271.0 839.7 272.0 837.8 274.6 C835.8 277.3 835.1 281.1 834.1 284.9 C833.1 288.7 831.5 293.2 831.6 297.4 C831.8 301.5 833.6 305.8 834.9 309.9 C836.3 313.9 837.9 318.2 839.9 321.5 C842.0 324.8 844.5 327.4 847.4 329.8 C850.3 332.1 852.4 334.0 857.4 335.6 C862.4 337.2 871.2 337.9 877.3 339.4 C883.4 341.0 888.4 343.4 893.9 344.7 C899.5 346.0 904.2 346.3 910.6 347.2 C916.9 348.2 928.6 350.0 932.2 350.6" fill="none" stroke="#fff" stroke-width="2.1" stroke-dasharray="6.4,3.6"/>
<polyline points="877.3,202.6 864.4,201.6 858.2,248.4" fill="none" stroke="#b9d2b4" stroke-width="3.6" stroke-linejoin="round"/>
<polyline points="877.3,202.6 864.4,201.6 858.2,248.4" fill="none" stroke="#fff" stroke-width="2" stroke-dasharray="6.4,3.6" stroke-linejoin="round"/>
<polyline points="311.0,90.3 340.5,94.1 378.0,99.3 445.0,103.0 560.0,111.6 625.4,118.4 676.0,124.6 721.5,129.6 809.0,138.8 826.0,141.0 931.0,148.7" fill="none" stroke="#dcdce7" stroke-width="6.2" stroke-linecap="round" stroke-linejoin="round"/>
<polyline points="829.5,140.8 931.0,148.9" fill="none" stroke="#dcdce7" stroke-width="10.0" stroke-linecap="round" stroke-linejoin="round"/>
<polyline points="385.8,80.0 389.5,83.0 395.7,86.2 415.7,90.0 435.6,93.0 460.6,96.9 485.5,101.2 502.9,104.2" fill="none" stroke="#dcdce7" stroke-width="5.8" stroke-linecap="round" stroke-linejoin="round"/>
<polyline points="378.8,99.5 367.7,235.0 356.5,330.0" fill="none" stroke="#dcdce7" stroke-width="6.0" stroke-linecap="round" stroke-linejoin="round"/>
<polyline points="504.4,78.0 490.0,235.0 479.5,345.0" fill="none" stroke="#dcdce7" stroke-width="6.2" stroke-linecap="round" stroke-linejoin="round"/>
<polyline points="448.0,345.0 440.5,432.0" fill="none" stroke="#dcdce7" stroke-width="6.0" stroke-linecap="round" stroke-linejoin="round"/>
<polyline points="311.0,206.5 491.0,223.0 565.0,229.6 617.0,235.5 640.0,238.6 724.0,246.6 731.0,249.0 734.3,254.5 732.0,309.8 726.5,352.1 722.0,361.0 714.0,364.5 705.0,364.6" fill="none" stroke="#dcdce7" stroke-width="6.0" stroke-linecap="round" stroke-linejoin="round"/>
<polyline points="311.0,327.2 479.0,343.8 565.0,352.1 603.0,355.9 705.0,364.6" fill="none" stroke="#dcdce7" stroke-width="6.0" stroke-linecap="round" stroke-linejoin="round"/>
<polyline points="627.4,78.0 625.4,118.4" fill="none" stroke="#dcdce7" stroke-width="5.8" stroke-linecap="round" stroke-linejoin="round"/>
<polyline points="625.4,118.4 614.0,236.0 603.0,355.9 594.8,432.0" fill="none" stroke="#dcdce7" stroke-width="5.8" stroke-linecap="round" stroke-linejoin="round"/>
<polyline points="338.4,146.8 405.7,152.8" fill="none" stroke="#dcdce7" stroke-width="4.3" stroke-linecap="round" stroke-linejoin="round"/>
<polyline points="455.6,133.6 495.4,136.8" fill="none" stroke="#dcdce7" stroke-width="4.3" stroke-linecap="round" stroke-linejoin="round"/>
<polyline points="468.0,179.2 492.5,181.7" fill="none" stroke="#dcdce7" stroke-width="4.3" stroke-linecap="round" stroke-linejoin="round"/>
<polyline points="500.9,169.0 525.4,176.7" fill="none" stroke="#dcdce7" stroke-width="4.3" stroke-linecap="round" stroke-linejoin="round"/>
<polyline points="418.7,195.9 418.7,213.3" fill="none" stroke="#dcdce7" stroke-width="4.3" stroke-linecap="round" stroke-linejoin="round"/>
<polyline points="318.5,184.7 317.2,198.4" fill="none" stroke="#dcdce7" stroke-width="4.3" stroke-linecap="round" stroke-linejoin="round"/>
<polyline points="313.0,209.6 311.0,227.1" fill="none" stroke="#dcdce7" stroke-width="4.3" stroke-linecap="round" stroke-linejoin="round"/>
<polyline points="433.6,224.6 431.9,234.5" fill="none" stroke="#dcdce7" stroke-width="4.3" stroke-linecap="round" stroke-linejoin="round"/>
<polyline points="449.3,225.8 448.1,234.5" fill="none" stroke="#dcdce7" stroke-width="4.3" stroke-linecap="round" stroke-linejoin="round"/>
<polyline points="475.5,228.3 474.3,234.5" fill="none" stroke="#dcdce7" stroke-width="4.3" stroke-linecap="round" stroke-linejoin="round"/>
<polyline points="542.8,230.8 542.3,234.5" fill="none" stroke="#dcdce7" stroke-width="4.3" stroke-linecap="round" stroke-linejoin="round"/>
<polyline points="364.6,272.9 384.5,274.4" fill="none" stroke="#dcdce7" stroke-width="4.3" stroke-linecap="round" stroke-linejoin="round"/>
<polyline points="485.5,295.6 501.7,296.6" fill="none" stroke="#dcdce7" stroke-width="4.3" stroke-linecap="round" stroke-linejoin="round"/>
<polyline points="337.2,332.2 334.7,372.1" fill="none" stroke="#dcdce7" stroke-width="4.3" stroke-linecap="round" stroke-linejoin="round"/>
<polyline points="348.4,333.5 347.1,362.1" fill="none" stroke="#dcdce7" stroke-width="4.3" stroke-linecap="round" stroke-linejoin="round"/>
<polyline points="397.0,338.4 393.3,387.0" fill="none" stroke="#dcdce7" stroke-width="4.3" stroke-linecap="round" stroke-linejoin="round"/>
<polyline points="549.0,322.2 549.0,348.4" fill="none" stroke="#dcdce7" stroke-width="4.3" stroke-linecap="round" stroke-linejoin="round"/>
<polyline points="542.8,235.0 542.8,247.5" fill="none" stroke="#dcdce7" stroke-width="4.3" stroke-linecap="round" stroke-linejoin="round"/>
<polyline points="557.8,235.0 556.5,254.9 565.2,256.2" fill="none" stroke="#dcdce7" stroke-width="4.3" stroke-linecap="round" stroke-linejoin="round"/>
<polyline points="431.9,235.0 432.4,239.5" fill="none" stroke="#dcdce7" stroke-width="4.3" stroke-linecap="round" stroke-linejoin="round"/>
<polyline points="448.1,235.0 447.6,240.0" fill="none" stroke="#dcdce7" stroke-width="4.3" stroke-linecap="round" stroke-linejoin="round"/>
<polyline points="504.2,349.7 501.7,389.5 501.7,402.3" fill="none" stroke="#dcdce7" stroke-width="4.3" stroke-linecap="round" stroke-linejoin="round"/>
<polyline points="420.7,400.3 440.6,401.1" fill="none" stroke="#dcdce7" stroke-width="4.3" stroke-linecap="round" stroke-linejoin="round"/>
<polyline points="582.4,115.4 581.2,134.1" fill="none" stroke="#dcdce7" stroke-width="4.3" stroke-linecap="round" stroke-linejoin="round"/>
<polyline points="627.3,157.8 672.2,162.7" fill="none" stroke="#dcdce7" stroke-width="4.3" stroke-linecap="round" stroke-linejoin="round"/>
<polyline points="715.8,78.0 704.6,152.8" fill="none" stroke="#dcdce7" stroke-width="3.5" stroke-linecap="round" stroke-linejoin="round"/>
<polyline points="740.7,78.0 737.5,126.6" fill="none" stroke="#dcdce7" stroke-width="3.5" stroke-linecap="round" stroke-linejoin="round"/>
<polyline points="715.9,80.0 705.9,152.3" fill="none" stroke="#dcdce7" stroke-width="3.5" stroke-linecap="round" stroke-linejoin="round"/>
<polyline points="740.8,80.0 735.8,121.1" fill="none" stroke="#dcdce7" stroke-width="3.5" stroke-linecap="round" stroke-linejoin="round"/>
<polyline points="882.9,80.0 875.4,139.8" fill="none" stroke="#dcdce7" stroke-width="3.5" stroke-linecap="round" stroke-linejoin="round"/>
<polyline points="838.0,122.4 835.5,133.6" fill="none" stroke="#dcdce7" stroke-width="3.5" stroke-linecap="round" stroke-linejoin="round"/>
<polyline points="616.1,269.9 642.3,272.4 634.8,357.1" fill="none" stroke="#dcdce7" stroke-width="4.3" stroke-linecap="round" stroke-linejoin="round"/>
<polyline points="698.3,277.9 727.0,279.9" fill="none" stroke="#dcdce7" stroke-width="4.3" stroke-linecap="round" stroke-linejoin="round"/>
<polyline points="698.3,277.9 691.6,359.6" fill="none" stroke="#dcdce7" stroke-width="4.3" stroke-linecap="round" stroke-linejoin="round"/>
<polyline points="570.0,275.4 607.4,277.9" fill="none" stroke="#dcdce7" stroke-width="4.3" stroke-linecap="round" stroke-linejoin="round"/>
<polyline points="560.0,256.2 607.4,259.9" fill="none" stroke="#dcdce7" stroke-width="4.3" stroke-linecap="round" stroke-linejoin="round"/>
<polyline points="563.3,416.4 594.8,418.4" fill="none" stroke="#dcdce7" stroke-width="4.3" stroke-linecap="round" stroke-linejoin="round"/>
<polyline points="889.1,152.3 877.9,234.5 877.9,235.0 869.2,309.8 895.3,313.5 905.3,235.0 915.3,154.8" fill="none" stroke="#dcdce7" stroke-width="3.6" stroke-linecap="round" stroke-linejoin="round"/>
<polyline points="810.6,256.2 875.4,252.4" fill="none" stroke="#dcdce7" stroke-width="3.6" stroke-linecap="round" stroke-linejoin="round"/>
<polyline points="797.4,359.9 809.9,361.2 824.8,356.2 867.2,361.2 879.6,372.4 877.1,407.3 869.7,413.5 792.4,406.1" fill="none" stroke="#dcdce7" stroke-width="4.3" stroke-linecap="round" stroke-linejoin="round"/>
<polyline points="809.9,361.2 824.8,366.9 877.1,374.9" fill="none" stroke="#dcdce7" stroke-width="3.4" stroke-linecap="round" stroke-linejoin="round"/>
<polyline points="813.6,363.7 829.8,371.2 876.7,380.4" fill="none" stroke="#dcdce7" stroke-width="3.4" stroke-linecap="round" stroke-linejoin="round"/>
<polyline points="824.8,356.2 834.8,360.4 879.1,368.7" fill="none" stroke="#dcdce7" stroke-width="3.4" stroke-linecap="round" stroke-linejoin="round"/>
<polyline points="817.8,366.9 832.3,374.9 875.2,384.9" fill="none" stroke="#dcdce7" stroke-width="3.4" stroke-linecap="round" stroke-linejoin="round"/>
<polyline points="862.2,414.3 858.5,430.2" fill="none" stroke="#dcdce7" stroke-width="4.3" stroke-linecap="round" stroke-linejoin="round"/>
<polyline points="998.0,361.2 1014.2,363.7" fill="none" stroke="#dcdce7" stroke-width="4.3" stroke-linecap="round" stroke-linejoin="round"/>
<polyline points="791.8,406.1 814.2,408.5" fill="none" stroke="#dcdce7" stroke-width="4.3" stroke-linecap="round" stroke-linejoin="round"/>
<polyline points="311.0,90.3 340.5,94.1 378.0,99.3 445.0,103.0 560.0,111.6 625.4,118.4 676.0,124.6 721.5,129.6 809.0,138.8 826.0,141.0 931.0,148.7" fill="none" stroke="#ffffff" stroke-width="4.8" stroke-linecap="round" stroke-linejoin="round"/>
<polyline points="829.5,140.8 931.0,148.9" fill="none" stroke="#ffffff" stroke-width="8.6" stroke-linecap="round" stroke-linejoin="round"/>
<polyline points="385.8,80.0 389.5,83.0 395.7,86.2 415.7,90.0 435.6,93.0 460.6,96.9 485.5,101.2 502.9,104.2" fill="none" stroke="#ffffff" stroke-width="4.4" stroke-linecap="round" stroke-linejoin="round"/>
<polyline points="378.8,99.5 367.7,235.0 356.5,330.0" fill="none" stroke="#ffffff" stroke-width="4.6" stroke-linecap="round" stroke-linejoin="round"/>
<polyline points="504.4,78.0 490.0,235.0 479.5,345.0" fill="none" stroke="#ffffff" stroke-width="4.8" stroke-linecap="round" stroke-linejoin="round"/>
<polyline points="448.0,345.0 440.5,432.0" fill="none" stroke="#ffffff" stroke-width="4.6" stroke-linecap="round" stroke-linejoin="round"/>
<polyline points="311.0,206.5 491.0,223.0 565.0,229.6 617.0,235.5 640.0,238.6 724.0,246.6 731.0,249.0 734.3,254.5 732.0,309.8 726.5,352.1 722.0,361.0 714.0,364.5 705.0,364.6" fill="none" stroke="#ffffff" stroke-width="4.6" stroke-linecap="round" stroke-linejoin="round"/>
<polyline points="311.0,327.2 479.0,343.8 565.0,352.1 603.0,355.9 705.0,364.6" fill="none" stroke="#ffffff" stroke-width="4.6" stroke-linecap="round" stroke-linejoin="round"/>
<polyline points="627.4,78.0 625.4,118.4" fill="none" stroke="#ffffff" stroke-width="4.4" stroke-linecap="round" stroke-linejoin="round"/>
<polyline points="625.4,118.4 614.0,236.0 603.0,355.9 594.8,432.0" fill="none" stroke="#ffffff" stroke-width="4.4" stroke-linecap="round" stroke-linejoin="round"/>
<polyline points="338.4,146.8 405.7,152.8" fill="none" stroke="#ffffff" stroke-width="2.9" stroke-linecap="round" stroke-linejoin="round"/>
<polyline points="455.6,133.6 495.4,136.8" fill="none" stroke="#ffffff" stroke-width="2.9" stroke-linecap="round" stroke-linejoin="round"/>
<polyline points="468.0,179.2 492.5,181.7" fill="none" stroke="#ffffff" stroke-width="2.9" stroke-linecap="round" stroke-linejoin="round"/>
<polyline points="500.9,169.0 525.4,176.7" fill="none" stroke="#ffffff" stroke-width="2.9" stroke-linecap="round" stroke-linejoin="round"/>
<polyline points="418.7,195.9 418.7,213.3" fill="none" stroke="#ffffff" stroke-width="2.9" stroke-linecap="round" stroke-linejoin="round"/>
<polyline points="318.5,184.7 317.2,198.4" fill="none" stroke="#ffffff" stroke-width="2.9" stroke-linecap="round" stroke-linejoin="round"/>
<polyline points="313.0,209.6 311.0,227.1" fill="none" stroke="#ffffff" stroke-width="2.9" stroke-linecap="round" stroke-linejoin="round"/>
<polyline points="433.6,224.6 431.9,234.5" fill="none" stroke="#ffffff" stroke-width="2.9" stroke-linecap="round" stroke-linejoin="round"/>
<polyline points="449.3,225.8 448.1,234.5" fill="none" stroke="#ffffff" stroke-width="2.9" stroke-linecap="round" stroke-linejoin="round"/>
<polyline points="475.5,228.3 474.3,234.5" fill="none" stroke="#ffffff" stroke-width="2.9" stroke-linecap="round" stroke-linejoin="round"/>
<polyline points="542.8,230.8 542.3,234.5" fill="none" stroke="#ffffff" stroke-width="2.9" stroke-linecap="round" stroke-linejoin="round"/>
<polyline points="364.6,272.9 384.5,274.4" fill="none" stroke="#ffffff" stroke-width="2.9" stroke-linecap="round" stroke-linejoin="round"/>
<polyline points="485.5,295.6 501.7,296.6" fill="none" stroke="#ffffff" stroke-width="2.9" stroke-linecap="round" stroke-linejoin="round"/>
<polyline points="337.2,332.2 334.7,372.1" fill="none" stroke="#ffffff" stroke-width="2.9" stroke-linecap="round" stroke-linejoin="round"/>
<polyline points="348.4,333.5 347.1,362.1" fill="none" stroke="#ffffff" stroke-width="2.9" stroke-linecap="round" stroke-linejoin="round"/>
<polyline points="397.0,338.4 393.3,387.0" fill="none" stroke="#ffffff" stroke-width="2.9" stroke-linecap="round" stroke-linejoin="round"/>
<polyline points="549.0,322.2 549.0,348.4" fill="none" stroke="#ffffff" stroke-width="2.9" stroke-linecap="round" stroke-linejoin="round"/>
<polyline points="542.8,235.0 542.8,247.5" fill="none" stroke="#ffffff" stroke-width="2.9" stroke-linecap="round" stroke-linejoin="round"/>
<polyline points="557.8,235.0 556.5,254.9 565.2,256.2" fill="none" stroke="#ffffff" stroke-width="2.9" stroke-linecap="round" stroke-linejoin="round"/>
<polyline points="431.9,235.0 432.4,239.5" fill="none" stroke="#ffffff" stroke-width="2.9" stroke-linecap="round" stroke-linejoin="round"/>
<polyline points="448.1,235.0 447.6,240.0" fill="none" stroke="#ffffff" stroke-width="2.9" stroke-linecap="round" stroke-linejoin="round"/>
<polyline points="504.2,349.7 501.7,389.5 501.7,402.3" fill="none" stroke="#ffffff" stroke-width="2.9" stroke-linecap="round" stroke-linejoin="round"/>
<polyline points="420.7,400.3 440.6,401.1" fill="none" stroke="#ffffff" stroke-width="2.9" stroke-linecap="round" stroke-linejoin="round"/>
<polyline points="582.4,115.4 581.2,134.1" fill="none" stroke="#ffffff" stroke-width="2.9" stroke-linecap="round" stroke-linejoin="round"/>
<polyline points="627.3,157.8 672.2,162.7" fill="none" stroke="#ffffff" stroke-width="2.9" stroke-linecap="round" stroke-linejoin="round"/>
<polyline points="715.8,78.0 704.6,152.8" fill="none" stroke="#ffffff" stroke-width="2.1" stroke-linecap="round" stroke-linejoin="round"/>
<polyline points="740.7,78.0 737.5,126.6" fill="none" stroke="#ffffff" stroke-width="2.1" stroke-linecap="round" stroke-linejoin="round"/>
<polyline points="715.9,80.0 705.9,152.3" fill="none" stroke="#ffffff" stroke-width="2.1" stroke-linecap="round" stroke-linejoin="round"/>
<polyline points="740.8,80.0 735.8,121.1" fill="none" stroke="#ffffff" stroke-width="2.1" stroke-linecap="round" stroke-linejoin="round"/>
<polyline points="882.9,80.0 875.4,139.8" fill="none" stroke="#ffffff" stroke-width="2.1" stroke-linecap="round" stroke-linejoin="round"/>
<polyline points="838.0,122.4 835.5,133.6" fill="none" stroke="#ffffff" stroke-width="2.1" stroke-linecap="round" stroke-linejoin="round"/>
<polyline points="616.1,269.9 642.3,272.4 634.8,357.1" fill="none" stroke="#ffffff" stroke-width="2.9" stroke-linecap="round" stroke-linejoin="round"/>
<polyline points="698.3,277.9 727.0,279.9" fill="none" stroke="#ffffff" stroke-width="2.9" stroke-linecap="round" stroke-linejoin="round"/>
<polyline points="698.3,277.9 691.6,359.6" fill="none" stroke="#ffffff" stroke-width="2.9" stroke-linecap="round" stroke-linejoin="round"/>
<polyline points="570.0,275.4 607.4,277.9" fill="none" stroke="#ffffff" stroke-width="2.9" stroke-linecap="round" stroke-linejoin="round"/>
<polyline points="560.0,256.2 607.4,259.9" fill="none" stroke="#ffffff" stroke-width="2.9" stroke-linecap="round" stroke-linejoin="round"/>
<polyline points="563.3,416.4 594.8,418.4" fill="none" stroke="#ffffff" stroke-width="2.9" stroke-linecap="round" stroke-linejoin="round"/>
<polyline points="889.1,152.3 877.9,234.5 877.9,235.0 869.2,309.8 895.3,313.5 905.3,235.0 915.3,154.8" fill="none" stroke="#ffffff" stroke-width="2.2" stroke-linecap="round" stroke-linejoin="round"/>
<polyline points="810.6,256.2 875.4,252.4" fill="none" stroke="#ffffff" stroke-width="2.2" stroke-linecap="round" stroke-linejoin="round"/>
<polyline points="797.4,359.9 809.9,361.2 824.8,356.2 867.2,361.2 879.6,372.4 877.1,407.3 869.7,413.5 792.4,406.1" fill="none" stroke="#ffffff" stroke-width="2.9" stroke-linecap="round" stroke-linejoin="round"/>
<polyline points="809.9,361.2 824.8,366.9 877.1,374.9" fill="none" stroke="#ffffff" stroke-width="2.0" stroke-linecap="round" stroke-linejoin="round"/>
<polyline points="813.6,363.7 829.8,371.2 876.7,380.4" fill="none" stroke="#ffffff" stroke-width="2.0" stroke-linecap="round" stroke-linejoin="round"/>
<polyline points="824.8,356.2 834.8,360.4 879.1,368.7" fill="none" stroke="#ffffff" stroke-width="2.0" stroke-linecap="round" stroke-linejoin="round"/>
<polyline points="817.8,366.9 832.3,374.9 875.2,384.9" fill="none" stroke="#ffffff" stroke-width="2.0" stroke-linecap="round" stroke-linejoin="round"/>
<polyline points="862.2,414.3 858.5,430.2" fill="none" stroke="#ffffff" stroke-width="2.9" stroke-linecap="round" stroke-linejoin="round"/>
<polyline points="998.0,361.2 1014.2,363.7" fill="none" stroke="#ffffff" stroke-width="2.9" stroke-linecap="round" stroke-linejoin="round"/>
<polyline points="791.8,406.1 814.2,408.5" fill="none" stroke="#ffffff" stroke-width="2.9" stroke-linecap="round" stroke-linejoin="round"/>
<polyline points="823.6,79.0 815.5,160.0 807.5,240.0 792.0,350.0 782.5,432.0" fill="none" stroke="#f7f7fb" stroke-width="14.6" stroke-linejoin="round" />
<polyline points="823.6,79.0 815.5,160.0 807.5,240.0 792.0,350.0 782.5,432.0" fill="none" stroke="#d3d3dc" stroke-width="12.4" stroke-linejoin="round" />
<polyline points="815.2,120.9 814.5,129.9" fill="none" stroke="#dfdfe6" stroke-width="1.1" stroke-linejoin="round" />
<polyline points="817.5,121.0 816.8,130.0" fill="none" stroke="#dfdfe6" stroke-width="1.1" stroke-linejoin="round" />
<polyline points="819.8,121.2 819.2,130.2" fill="none" stroke="#dfdfe6" stroke-width="1.1" stroke-linejoin="round" />
<polyline points="822.1,121.4 821.5,130.3" fill="none" stroke="#dfdfe6" stroke-width="1.1" stroke-linejoin="round" />
<polyline points="812.8,146.8 811.8,157.8" fill="none" stroke="#dfdfe6" stroke-width="1.1" stroke-linejoin="round" />
<polyline points="815.2,147.0 814.2,157.9" fill="none" stroke="#dfdfe6" stroke-width="1.1" stroke-linejoin="round" />
<polyline points="817.5,147.1 816.5,158.1" fill="none" stroke="#dfdfe6" stroke-width="1.1" stroke-linejoin="round" />
<polyline points="819.8,147.3 818.8,158.3" fill="none" stroke="#dfdfe6" stroke-width="1.1" stroke-linejoin="round" />
<polyline points="625.4,118.4 603.0,355.9" fill="none" stroke="#fc5200" stroke-width="6.4" stroke-linejoin="round" stroke-linecap="round"/>
<circle cx="625.4" cy="118.4" r="5.55" fill="#6bd42c" stroke="#f4fbef" stroke-width="0.9"/>
<text x="445.3" y="105.5" transform="rotate(3.2 445.3 102.2)" font-size="9.3" font-weight="normal" text-anchor="middle" fill="#5f5f5f" stroke="#fff" stroke-width="2.2" stroke-linejoin="round" paint-order="stroke" letter-spacing="0.2">W Van Emmon St</text>
<text x="721.5" y="133.1" transform="rotate(5.6 721.5 129.8)" font-size="9.3" font-weight="normal" text-anchor="middle" fill="#5f5f5f" stroke="#fff" stroke-width="2.2" stroke-linejoin="round" paint-order="stroke" letter-spacing="0.2">W Van Emmon St</text>
<text x="498.2" y="155.3" transform="rotate(-84.8 498.2 152.0)" font-size="9.3" font-weight="normal" text-anchor="middle" fill="#5f5f5f" stroke="#fff" stroke-width="2.2" stroke-linejoin="round" paint-order="stroke" letter-spacing="0.2">State St</text>
<text x="367.1" y="219.5" transform="rotate(-84.8 367.1 216.2)" font-size="9.3" font-weight="normal" text-anchor="middle" fill="#5f5f5f" stroke="#fff" stroke-width="2.2" stroke-linejoin="round" paint-order="stroke" letter-spacing="0.2">Adams St</text>
<text x="440.4" y="222.4" transform="rotate(5.2 440.4 219.1)" font-size="9.3" font-weight="normal" text-anchor="middle" fill="#5f5f5f" stroke="#fff" stroke-width="2.2" stroke-linejoin="round" paint-order="stroke" letter-spacing="0.2">W Madison St</text>
<text x="434.6" y="342.5" transform="rotate(5.6 434.6 339.2)" font-size="9.3" font-weight="normal" text-anchor="middle" fill="#5f5f5f" stroke="#fff" stroke-width="2.2" stroke-linejoin="round" paint-order="stroke" letter-spacing="0.2">W Ridge St</text>
<text x="443.9" y="395.9" transform="rotate(-85.2 443.9 392.6)" font-size="9.3" font-weight="normal" text-anchor="middle" fill="#5f5f5f" stroke="#fff" stroke-width="2.2" stroke-linejoin="round" paint-order="stroke" letter-spacing="0.2">State St</text>
<text x="807.3" y="231.0" transform="rotate(-84.3 807.3 227.3)" font-size="10.6" font-weight="normal" text-anchor="middle" fill="#5f5f5f" stroke="#fff" stroke-width="2.2" stroke-linejoin="round" paint-order="stroke" letter-spacing="0.2">S Bridge St</text>
<text x="856.8" y="110.2" font-size="9.2" font-weight="normal" text-anchor="start" fill="#fff" stroke="#fff" stroke-width="1.8" stroke-linejoin="round" letter-spacing="0.3">The Law Office</text>
<text x="856.8" y="110.2" font-size="9.2" font-weight="normal" text-anchor="start" fill="#c233ac" stroke="#c233ac" stroke-width="0.3" letter-spacing="0.3">The Law Office</text>
<text x="855.8" y="121.0" font-size="9.2" font-weight="normal" text-anchor="start" fill="#fff" stroke="#fff" stroke-width="1.8" stroke-linejoin="round" letter-spacing="0.3">Pub &amp; Music Hall</text>
<text x="855.8" y="121.0" font-size="9.2" font-weight="normal" text-anchor="start" fill="#c233ac" stroke="#c233ac" stroke-width="0.3" letter-spacing="0.3">Pub &amp; Music Hall</text>
<text x="904.3" y="275.9" font-size="9.2" font-weight="normal" text-anchor="middle" fill="#c4efc4" stroke="#c4efc4" stroke-width="1.8" stroke-linejoin="round" letter-spacing="-0.05">Van Emmon</text>
<text x="904.3" y="275.9" font-size="9.2" font-weight="normal" text-anchor="middle" fill="#3d7530" stroke="#3d7530" stroke-width="0.4" letter-spacing="-0.05">Van Emmon</text>
<text x="904.3" y="285.9" font-size="9.2" font-weight="normal" text-anchor="middle" fill="#c4efc4" stroke="#c4efc4" stroke-width="1.8" stroke-linejoin="round" letter-spacing="-0.05">Activity Center</text>
<text x="904.3" y="285.9" font-size="9.2" font-weight="normal" text-anchor="middle" fill="#3d7530" stroke="#3d7530" stroke-width="0.4" letter-spacing="-0.05">Activity Center</text>
<g><ellipse cx="844.0" cy="123.2" rx="3.6" ry="1.4" fill="#000" opacity="0.10"/><path d="M844.00 123.30 C842.70 122.70 840.00 121.00 838.60 117.20 A7.6 7.6 0 1 1 849.40 117.20 C848.00 121.00 845.30 122.70 844.00 123.30 Z" fill="#fff" stroke="#000" stroke-opacity="0.16" stroke-width="0.6"/><circle cx="844.0" cy="111.8" r="6.4" fill="#d63ab9"/><path d="M840.4 108.4h7.2l-3 3.7v2.9h1.7v1h-4.6v-1h1.7v-2.9z" fill="#fff"/></g>
<defs><linearGradient id="pg" x1="0" y1="0" x2="0" y2="1"><stop offset="0" stop-color="#1e666a"/><stop offset="1" stop-color="#124b52"/></linearGradient></defs>
<g><ellipse cx="648.9" cy="156.6" rx="3.6" ry="1.4" fill="#000" opacity="0.10"/><path d="M648.90 156.70 C647.60 156.10 644.90 154.40 643.50 150.60 A7.6 7.6 0 1 1 654.30 150.60 C652.90 154.40 650.20 156.10 648.90 156.70 Z" fill="#fff" stroke="#000" stroke-opacity="0.16" stroke-width="0.6"/><circle cx="648.9" cy="145.2" r="6.4" fill="url(#pg)"/><path transform="translate(646.10 140.80)" fill-rule="evenodd" fill="#fff" d="M0 0h3.3a2.8 2.8 0 0 1 0 5.6h-1.7v3.3h-1.6zM1.6 1.4v2.8h1.6a1.4 1.4 0 0 0 0 -2.8z"/></g>
<g><ellipse cx="641.5" cy="231.8" rx="3.6" ry="1.4" fill="#000" opacity="0.10"/><path d="M641.50 231.90 C640.20 231.30 637.50 229.60 636.10 225.80 A7.6 7.6 0 1 1 646.90 225.80 C645.50 229.60 642.80 231.30 641.50 231.90 Z" fill="#fff" stroke="#000" stroke-opacity="0.16" stroke-width="0.6"/><circle cx="641.5" cy="220.4" r="6.4" fill="url(#pg)"/><path transform="translate(638.70 216.00)" fill-rule="evenodd" fill="#fff" d="M0 0h3.3a2.8 2.8 0 0 1 0 5.6h-1.7v3.3h-1.6zM1.6 1.4v2.8h1.6a1.4 1.4 0 0 0 0 -2.8z"/></g>
<g><ellipse cx="634.3" cy="304.8" rx="3.6" ry="1.4" fill="#000" opacity="0.10"/><path d="M634.30 304.90 C633.00 304.30 630.30 302.60 628.90 298.80 A7.6 7.6 0 1 1 639.70 298.80 C638.30 302.60 635.60 304.30 634.30 304.90 Z" fill="#fff" stroke="#000" stroke-opacity="0.16" stroke-width="0.6"/><circle cx="634.3" cy="293.4" r="6.4" fill="url(#pg)"/><path transform="translate(631.50 289.00)" fill-rule="evenodd" fill="#fff" d="M0 0h3.3a2.8 2.8 0 0 1 0 5.6h-1.7v3.3h-1.6zM1.6 1.4v2.8h1.6a1.4 1.4 0 0 0 0 -2.8z"/></g>
<g><ellipse cx="700.0" cy="311.0" rx="3.6" ry="1.4" fill="#000" opacity="0.10"/><path d="M700.00 311.10 C698.70 310.50 696.00 308.80 694.60 305.00 A7.6 7.6 0 1 1 705.40 305.00 C704.00 308.80 701.30 310.50 700.00 311.10 Z" fill="#fff" stroke="#000" stroke-opacity="0.16" stroke-width="0.6"/><circle cx="700.0" cy="299.6" r="6.4" fill="url(#pg)"/><path transform="translate(697.20 295.20)" fill-rule="evenodd" fill="#fff" d="M0 0h3.3a2.8 2.8 0 0 1 0 5.6h-1.7v3.3h-1.6zM1.6 1.4v2.8h1.6a1.4 1.4 0 0 0 0 -2.8z"/></g>
<g><ellipse cx="892.3" cy="225.4" rx="3.6" ry="1.4" fill="#000" opacity="0.10"/><path d="M892.30 225.50 C891.00 224.90 888.30 223.20 886.90 219.40 A7.6 7.6 0 1 1 897.70 219.40 C896.30 223.20 893.60 224.90 892.30 225.50 Z" fill="#fff" stroke="#000" stroke-opacity="0.16" stroke-width="0.6"/><circle cx="892.3" cy="214.0" r="6.4" fill="url(#pg)"/><path transform="translate(889.50 209.60)" fill-rule="evenodd" fill="#fff" d="M0 0h3.3a2.8 2.8 0 0 1 0 5.6h-1.7v3.3h-1.6zM1.6 1.4v2.8h1.6a1.4 1.4 0 0 0 0 -2.8z"/></g>
<path d="M612.7 157.3 L620.9 159.8 L629.7 158.2 L621 168.2 Z" fill="#fc5200" stroke="#fc5200" stroke-width="1.3" stroke-linejoin="round"/>
<g><circle cx="602.7" cy="355.7" r="6.2" fill="#fff"/><clipPath id="ec"><circle cx="602.7" cy="355.7" r="5.6"/></clipPath><g clip-path="url(#ec)" fill="#111"><rect x="601.05" y="354.05" width="3.3" height="3.3"/><rect x="597.75" y="350.75" width="3.3" height="3.3"/><rect x="604.35" y="350.75" width="3.3" height="3.3"/><rect x="597.75" y="357.35" width="3.3" height="3.3"/><rect x="604.35" y="357.35" width="3.3" height="3.3"/></g></g>
<g><rect x="317.7" y="86.4" width="21.4" height="66" rx="3.2" fill="#fff" stroke="#000" stroke-opacity="0.12" stroke-width="1"/><line x1="318" y1="108.2" x2="339" y2="108.2" stroke="#e6e6e6" stroke-width="0.8"/><line x1="318" y1="130.3" x2="339" y2="130.3" stroke="#e6e6e6" stroke-width="0.8"/><path d="M324.2 97.7h8.8M328.6 93.3v8.8M324.2 119.3h8.8" stroke="#222" stroke-width="1.9" fill="none"/><path d="M328.6 135l2.8 5.6h-5.6z" fill="#222"/><path d="M328.6 148l2.8 -5.2h-5.6z" fill="#bbb"/></g>
<g><rect x="834.4" y="87" width="90.2" height="19.3" rx="3.2" fill="#fff" stroke="#000" stroke-opacity="0.10" stroke-width="0.8"/><text x="844" y="100.4" font-size="10.3" fill="#111" stroke="#111" stroke-width="0.2" textLength="61" lengthAdjust="spacingAndGlyphs">Standard Map</text><path d="M910.2 94.6l3.8 3.8l3.8 -3.8" fill="none" stroke="#555" stroke-width="0.9"/></g>
<g><circle cx="326.6" cy="392.7" r="8.5" fill="#fff"/><circle cx="326.6" cy="392.7" r="5.85" fill="#000"/><rect x="325.95" y="391.8" width="1.3" height="3.7" fill="#fff"/><circle cx="326.6" cy="390.2" r="0.85" fill="#fff"/></g>
<g><rect x="318.2" y="409.2" width="46.3" height="14" fill="#fff" fill-opacity="0.78"/><path d="M319 409.2v13.2h44.7v-13.2" fill="none" stroke="#6f6f6f" stroke-width="1.7"/><text x="322.1" y="417.7" font-size="7.9" fill="#5e5e5e" textLength="20" lengthAdjust="spacingAndGlyphs">100 ft</text></g>
<g><rect x="902.8" y="402.8" width="21.2" height="20.8" rx="3" fill="#fc5200"/><path d="M910.6 408.2v10l7 -5z" fill="none" stroke="#fff" stroke-width="1.1" stroke-linejoin="round"/></g>
<path d="M900.3 266v-8m-2.4 2.6l2.4 -3l2.4 3" fill="none" stroke="#a9aab6" stroke-width="1"/>
<path d="M858 376.2h-7m2.6 -2.2l-3 2.2l3 2.2" fill="none" stroke="#a9aab6" stroke-width="1"/>
<line x1="675.8" y1="137.8" x2="680.8" y2="138.2" stroke="#fff" stroke-width="1.2"/>
<line x1="675.8" y1="140.1" x2="680.8" y2="140.5" stroke="#e3d9dc" stroke-width="1.2"/>
<line x1="675.8" y1="142.4" x2="680.8" y2="142.8" stroke="#fff" stroke-width="1.2"/>
<line x1="675.8" y1="144.7" x2="680.8" y2="145.1" stroke="#e3d9dc" stroke-width="1.2"/>
<line x1="675.8" y1="147.0" x2="680.8" y2="147.4" stroke="#fff" stroke-width="1.2"/>
</g></svg></div>
<div class="abs" id="elev"><svg width="620" height="150" viewBox="311 432 620 150" style="display:block;font-family:'Liberation Sans',sans-serif">
<polygon points="343.9,560.4 385.3,546.6 407,544.2 608.5,466.6 641,460.7 691,453.8 750.6,448.8 832,444.4 913.9,440.6 913.9,562.3 343.9,562.3" fill="#999"/>
<g stroke="#000" stroke-opacity="0.17" stroke-width="0.8" stroke-dasharray="1.2,2.3">
<line x1="344" y1="449.3" x2="913" y2="449.3"/>
<line x1="344" y1="483" x2="913" y2="483"/>
<line x1="344" y1="516.7" x2="913" y2="516.7"/>
<line x1="344" y1="550.4" x2="913" y2="550.4"/>
</g>
<line x1="343.9" y1="562.5" x2="913.9" y2="562.5" stroke="#ccc" stroke-width="1"/>
<g stroke="#ccc" stroke-width="1">
<line x1="343.9" y1="562" x2="343.9" y2="567"/>
<line x1="377.5" y1="562" x2="377.5" y2="566.5"/>
<line x1="440.1" y1="562" x2="440.1" y2="566.5"/>
<line x1="502.7" y1="562" x2="502.7" y2="566.5"/>
<line x1="565.3" y1="562" x2="565.3" y2="566.5"/>
<line x1="627.9" y1="562" x2="627.9" y2="566.5"/>
<line x1="690.5" y1="562" x2="690.5" y2="566.5"/>
<line x1="753.1" y1="562" x2="753.1" y2="566.5"/>
<line x1="815.7" y1="562" x2="815.7" y2="566.5"/>
<line x1="878.3" y1="562" x2="878.3" y2="566.5"/>
<line x1="913.6" y1="562" x2="913.6" y2="567"/>
</g>
<g font-size="7" fill="#666" text-anchor="end">
<text x="341.5" y="451.8">640 ft</text>
<text x="341.5" y="485.5">630 ft</text>
<text x="341.5" y="519.2">620 ft</text>
<text x="341.5" y="552.9">610 ft</text>
</g>
<g font-size="7.2" fill="#666" text-anchor="middle">
<text x="377.5" y="574.5">0.0 mi</text>
<text x="440.1" y="574.5">0.0 mi</text>
<text x="502.7" y="574.5">0.0 mi</text>
<text x="565.3" y="574.5">0.0 mi</text>
<text x="627.9" y="574.5">0.0 mi</text>
<text x="690.5" y="574.5">0.0 mi</text>
<text x="753.1" y="574.5">0.0 mi</text>
<text x="815.7" y="574.5">0.0 mi</text>
<text x="878.3" y="574.5">0.0 mi</text>
</g>
</svg>
</div>
<div class="abs" id="botline"></div>
</div>
</body></html>
